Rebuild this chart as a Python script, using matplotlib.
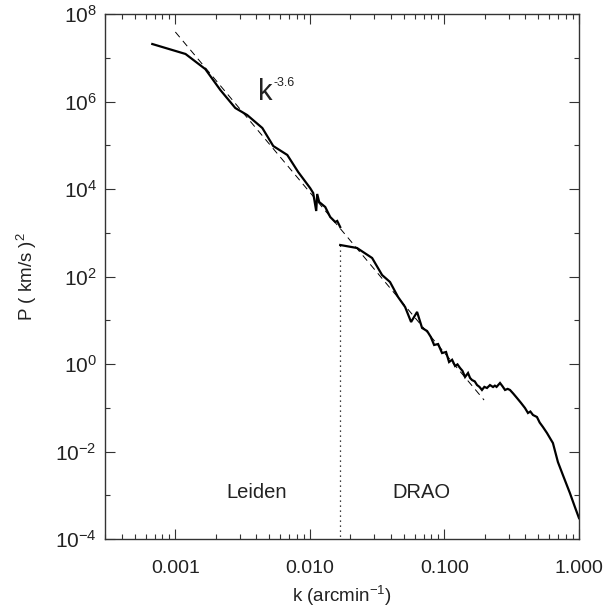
import math
import matplotlib
matplotlib.use('Agg')
import matplotlib.pyplot as plt
from matplotlib.ticker import FixedLocator, FuncFormatter, LogLocator, NullFormatter

plt.rcParams['font.family'] = ['Liberation Sans', 'DejaVu Sans']
plt.rcParams['mathtext.fontset'] = 'custom'
plt.rcParams['mathtext.rm'] = 'Liberation Sans'
plt.rcParams['mathtext.it'] = 'Liberation Sans'
plt.rcParams['mathtext.bf'] = 'Liberation Sans'

# Leiden survey spectrum
leiden_k = [0.000674, 0.00119, 0.00167, 0.00216, 0.00279, 0.00342, 0.00443,
            0.00534, 0.00679, 0.00818, 0.01004, 0.01058, 0.01114, 0.01133,
            0.01172, 0.0130, 0.01416, 0.01543, 0.01596, 0.0168]
leiden_P = [2.06e7, 1.22e7, 5.5e6, 1.83e6, 7.1e5, 4.9e5, 2.48e5,
            9.6e4, 6.0e4, 2.45e4, 1.05e4, 8.1e3, 3.14e3, 7.7e3,
            5.05e3, 3.88e3, 2.29e3, 1.76e3, 1.86e3, 1.35e3]

# DRAO survey spectrum
drao_k = [0.0168, 0.0224, 0.0290, 0.0344, 0.0394, 0.0452, 0.0510, 0.0565,
          0.0626, 0.0682, 0.0743, 0.0790, 0.0838, 0.0897, 0.0960, 0.1028,
          0.1082, 0.1140, 0.1199, 0.1250, 0.1306, 0.1360, 0.1423, 0.1497,
          0.1550, 0.1603, 0.1680, 0.1746, 0.182, 0.190, 0.198, 0.207, 0.218,
          0.2296, 0.237, 0.244, 0.2588, 0.270, 0.282, 0.295, 0.307, 0.325,
          0.346, 0.370, 0.3967, 0.4176, 0.435, 0.455, 0.4868, 0.510, 0.5395,
          0.578, 0.610, 0.640, 0.697, 0.759, 0.856, 0.932, 1.0]
drao_P = [525, 448, 265, 108, 74.8, 34.0, 20.1, 9.12,
          15.5, 6.65, 5.68, 4.2, 2.72, 2.86, 1.78, 1.88,
          1.11, 1.25, 0.90, 0.98, 0.81, 0.70, 0.505, 0.622,
          0.48, 0.43, 0.40, 0.331, 0.30, 0.255, 0.30, 0.283, 0.33,
          0.298, 0.32, 0.30, 0.368, 0.31, 0.255, 0.27, 0.255, 0.21,
          0.167, 0.13, 0.0987, 0.0759, 0.082, 0.0683, 0.0615, 0.046, 0.0363,
          0.0265, 0.020, 0.0156, 0.00575, 0.0029, 0.00112, 0.00054, 0.0003]

# k^-3.6 reference line end points
fit_k = [0.00100, 0.197]
fit_P = [3.88e7, 0.150]

split_k = 0.0168

fig = plt.figure(figsize=(6.12, 6.16), dpi=100)
ax = fig.add_axes([105/612, 77/616, 474/612, 525/616])

ax.plot(leiden_k, leiden_P, color='black', lw=1.6, solid_joinstyle='miter')
ax.plot(drao_k, drao_P, color='black', lw=1.6, solid_joinstyle='miter')
ax.plot(fit_k, fit_P, color='black', lw=0.7, dashes=(7, 5))
ax.plot([split_k, split_k], [drao_P[0], 1e-4], color='black', lw=0.9, ls=(0, (1, 3)))

ax.set_xscale('log')
ax.set_yscale('log')
ax.set_xlim(0.0003, 1.0)
ax.set_ylim(1e-4, 1e8)

ax.xaxis.set_major_locator(FixedLocator([0.001, 0.01, 0.1, 1.0]))
ax.xaxis.set_major_formatter(FuncFormatter(lambda v, p: '%.3f' % v))
ax.xaxis.set_minor_locator(LogLocator(base=10, subs=range(2, 10), numticks=20))
ax.xaxis.set_minor_formatter(NullFormatter())

ax.yaxis.set_major_locator(FixedLocator([10.0**e for e in range(-4, 9, 2)]))
ax.yaxis.set_major_formatter(FuncFormatter(lambda v, p: r'$10^{%d}$' % round(math.log10(v))))
ax.yaxis.set_minor_locator(FixedLocator([10.0**e for e in range(-3, 8, 2)]))
ax.yaxis.set_minor_formatter(NullFormatter())

ax.tick_params(which='both', direction='in', top=True, right=True, width=0.8, color='#333333')
ax.tick_params(which='major', length=7.2)
ax.tick_params(which='minor', length=3.6)
ax.tick_params(axis='x', which='major', labelsize=14, pad=15, labelcolor='#222222')
ax.tick_params(axis='y', which='major', labelsize=15, pad=6, labelcolor='#222222')
for s in ax.spines.values():
    s.set_linewidth(1.0)
    s.set_color('#333333')

ax.set_xlabel(r'k (arcmin$^{\mathregular{-1}}$)', fontsize=13.5, color='#222222')
ax.xaxis.set_label_coords(0.5, -0.085)
ax.set_ylabel(r'P ( km/s )$^{\mathregular{2}}$', fontsize=13.5, color='#222222')
ax.yaxis.set_label_coords(-0.14, 0.5)

ax.text(0.3207, 0.0895, 'Leiden', transform=ax.transAxes, fontsize=14.5,
        ha='center', va='center', color='#222222')
ax.text(0.667, 0.0895, 'DRAO', transform=ax.transAxes, fontsize=14.5,
        ha='center', va='center', color='#222222')
ax.text((258-105)/474, 1-(100-14)/525, 'k', transform=ax.transAxes, fontsize=21,
        ha='left', va='baseline', color='#222222')
ax.text((273-105)/474, 1-(86-14)/525, '-3.6', transform=ax.transAxes, fontsize=9,
        ha='left', va='baseline', color='#222222')

fig.savefig('out.png', dpi=100)
